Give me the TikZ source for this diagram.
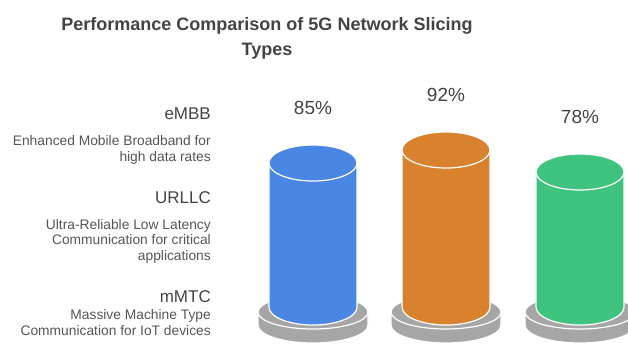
\documentclass[tikz,border=0pt]{standalone}
\usepackage{fontspec}
\setmainfont{Liberation Sans}
\usetikzlibrary{positioning}
\definecolor{sliceblue}{RGB}{74,134,228}
\definecolor{sliceorange}{RGB}{217,130,45}
\definecolor{slicegreen}{RGB}{62,196,126}
\definecolor{basegray}{RGB}{166,166,166}
\definecolor{titlegray}{RGB}{68,68,68}
\definecolor{textgray}{RGB}{85,85,85}

\begin{document}
\begin{tikzpicture}[x=1pt,y=-1pt,
   title/.style={font=\fontsize{18}{25}\selectfont\bfseries,text=titlegray,
                 align=center,inner sep=0pt},
   head/.style={font=\fontsize{17}{20}\selectfont,text=titlegray,
                anchor=base east,inner sep=0pt},
   desc/.style={font=\fontsize{13.8}{15.5}\selectfont,text=textgray,
                align=right,anchor=base east,inner sep=0pt},
   pct/.style={font=\fontsize{19}{20}\selectfont,text=titlegray,
               anchor=base,inner sep=0pt},
   rim/.style={fill=basegray,draw=white,line width=1.2pt},
   bar/.style={draw=white,line width=1.2pt}]
  \useasboundingbox (0,0) rectangle (628,346);
  \node[title,anchor=base] (ttl) at (267,55)
    {Performance Comparison of 5G Network Slicing\\Types};
  % slice names and descriptions
  \node[head] (embb) at (211,119) {eMBB};
  \node[desc] (embbtxt) at (211,161) {Enhanced Mobile Broadband for\\high data rates};
  \node[head] (urllc) at (211,203) {URLLC};
  \node[desc] (urllctxt) at (211,260)
    {Ultra-Reliable Low Latency\\Communication for critical\\applications};
  \node[head] (mmtc) at (211,302) {mMTC};
  \node[desc] (mmtctxt) at (211,335) {Massive Machine Type\\Communication for IoT devices};
  % cylinders on their gray stands
  \begin{scope}
    \clip (0,0) rectangle (628,346);
    \foreach \cx/\ty/\col/\val/\nm in {313/163/sliceblue/85/embbval,
        446/150/sliceorange/92/urllcval,580/172/slicegreen/78/mmtcval}{
      \draw[rim] (\cx-55,312) -- (\cx-55,325)
        arc[start angle=180,end angle=0,x radius=55,y radius=18] -- (\cx+55,312) -- cycle;
      \draw[rim] (\cx,312) ellipse[x radius=55,y radius=17];
      \draw[bar,fill=\col] (\cx-44,\ty) -- (\cx-44,307)
        arc[start angle=180,end angle=0,x radius=44,y radius=18] -- (\cx+44,\ty) -- cycle;
      \draw[bar,fill=\col] (\cx,\ty) ellipse[x radius=44,y radius=18];
      \node[pct] (\nm) at (\cx,\ty-49) {\val\%};
    }
  \end{scope}
\end{tikzpicture}
\end{document}
